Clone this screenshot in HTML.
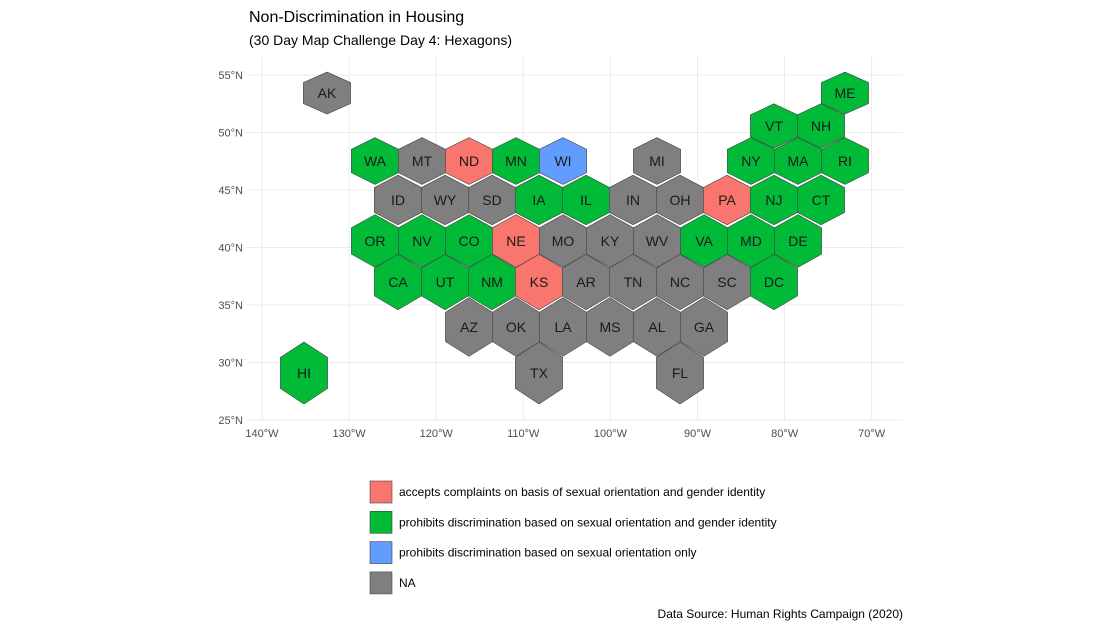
<!DOCTYPE html>
<html><head><meta charset="utf-8"><style>
body{margin:0;background:#fff;}
svg{display:block;font-family:"Liberation Sans",Arial,sans-serif;}
</style></head><body>
<svg id="chart" width="1100" height="628">
<text x="249" y="22" font-size="16" fill="#000">Non-Discrimination in Housing</text>
<text x="249" y="45" font-size="14" fill="#000">(30 Day Map Challenge Day 4: Hexagons)</text>
<g id="grid"></g>
<g id="axes"></g>
<g id="hexes"></g>
<g id="legend"></g>
<text x="903" y="618" font-size="12" text-anchor="end" fill="#000">Data Source: Human Rights Campaign (2020)</text>
</svg>
<script>
const states=["AK","ME","VT","NH","WA","MT","ND","MN","WI","MI","NY","MA","RI","ID","WY","SD","IA","IL","IN","OH","PA","NJ","CT","OR","NV","CO","NE","MO","KY","WV","VA","MD","DE","CA","UT","NM","KS","AR","TN","NC","SC","DC","AZ","OK","LA","MS","AL","GA","TX","FL","HI"];
const lons=[-132.54,-73.07,-81.22,-75.82,-127.03,-121.63,-116.23,-110.84,-105.44,-94.65,-83.86,-78.46,-73.07,-124.39,-118.99,-113.59,-108.20,-102.80,-97.41,-92.01,-86.61,-81.22,-75.82,-127.03,-121.63,-116.23,-110.84,-105.44,-100.05,-94.65,-89.25,-83.86,-78.46,-124.39,-118.99,-113.59,-108.20,-102.80,-97.41,-92.01,-86.61,-81.22,-116.23,-110.84,-105.44,-100.05,-94.65,-89.25,-108.20,-92.01,-135.18];
const lats=[53.43,53.43,50.57,50.57,47.52,47.52,47.52,47.52,47.52,47.52,47.52,47.52,47.52,44.13,44.13,44.13,44.13,44.13,44.13,44.13,44.13,44.13,44.13,40.57,40.57,40.57,40.57,40.57,40.57,40.57,40.57,40.57,40.57,37.0,37.0,37.0,37.0,37.0,37.0,37.0,37.0,37.0,33.09,33.09,33.09,33.09,33.09,33.09,29.09,29.09,29.09];
const cats=["NA","P","P","P","P","NA","A","P","O","NA","P","P","P","NA","NA","NA","P","P","NA","NA","A","P","P","P","P","P","A","NA","NA","NA","P","P","P","P","P","P","A","NA","NA","NA","NA","P","NA","NA","NA","NA","NA","NA","NA","NA","P"];
const xTicks=[-140,-130,-120,-110,-100,-90,-80,-70];
const yTicks=[25,30,35,40,45,50,55];
const legendKeys=["A","P","O","NA"];
const legendLabels=["accepts complaints on basis of sexual orientation and gender identity","prohibits discrimination based on sexual orientation and gender identity","prohibits discrimination based on sexual orientation only","NA"];
const colors={A:"#F8766D",P:"#00BA38",O:"#619CFF",NA:"#7F7F7F"};
const NS="http://www.w3.org/2000/svg";
const x=lon=>262+(lon+140)*8.71;
const y=lat=>420-(lat-25)*11.5;
function mk(tag,attrs,parent){const e=document.createElementNS(NS,tag);for(const k in attrs)e.setAttribute(k,attrs[k]);parent.appendChild(e);return e;}
const grid=document.getElementById('grid'),axes=document.getElementById('axes'),hexes=document.getElementById('hexes'),legend=document.getElementById('legend');
xTicks.forEach(t=>{
 const l=mk('line',{x1:x(t),x2:x(t),y1:57,y2:421,stroke:'#ebebeb','stroke-width':1},grid);
 
 
 const tx=mk('text',{x:x(t),y:437,'font-size':11,fill:'#4d4d4d','text-anchor':'middle'},axes);
 tx.textContent=Math.abs(t)+'°W';
 
 
});
yTicks.forEach(t=>{
 const l=mk('line',{x1:247,x2:903,y1:y(t),y2:y(t),stroke:'#ebebeb','stroke-width':1},grid);
 
 
 const tx=mk('text',{x:243,y:y(t)+4,'font-size':11,fill:'#4d4d4d','text-anchor':'end'},axes);
 tx.textContent=t+'°N';
 
 
});
states.forEach((s,i)=>{
 const cx=x(lons[i]),cy=y(lats[i]);
 const h=21+(cy-93)*10/280, w=23.6, s2=h/2;
 const pts=[[cx,cy-h],[cx+w,cy-s2],[cx+w,cy+s2],[cx,cy+h],[cx-w,cy+s2],[cx-w,cy-s2]].map(p=>p.join(',')).join(' ');
 const p=mk('polygon',{points:pts,fill:colors[cats[i]],stroke:'#444','stroke-width':0.6},hexes);
 
 
 const t=mk('text',{x:cx,y:cy+5,'font-size':14,fill:'#1a1a1a','text-anchor':'middle'},hexes);
 t.textContent=s;
 
 
});
legendKeys.forEach((k,i)=>{
 const cy=492+i*30.3;
 const r=mk('rect',{x:370,y:cy-11,width:22,height:22,fill:colors[k],stroke:'#444','stroke-width':0.6},legend);
 
 
 const t=mk('text',{x:399,y:cy+4,'font-size':12,fill:'#000'},legend);
 t.textContent=legendLabels[i];
 
 
});
</script>
</body></html>
